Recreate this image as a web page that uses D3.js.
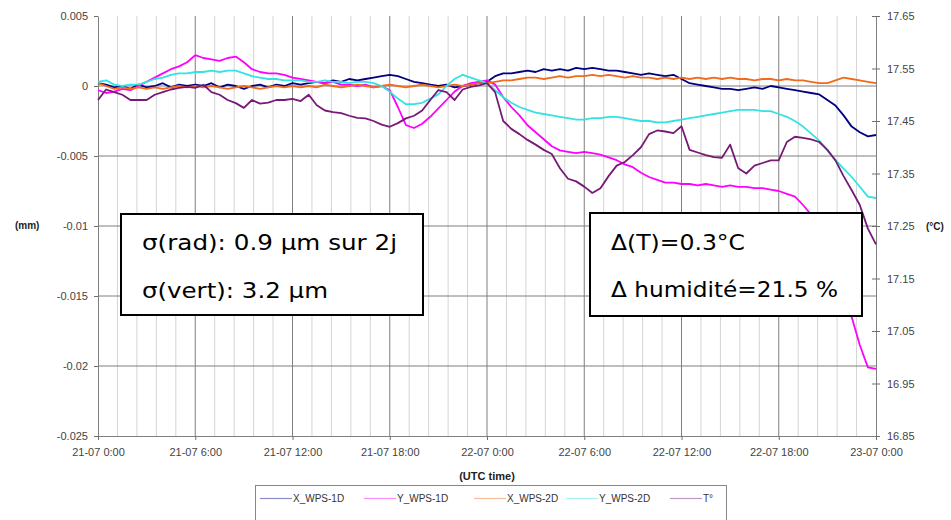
<!DOCTYPE html>
<html lang="fr">
<head>
  <meta charset="UTF-8">
  <script src="https://d3js.org/d3.v7.min.js"></script>
  <title>WPS 21-23/07</title>
  <style>
    body { margin: 0; background: #fff; }
    text { font-family: "Liberation Sans", Arial, sans-serif; }
    .tick text { font-size: 11px; fill: #444; }
    .unit { font-size: 10px; font-weight: bold; fill: #222; }
    .note { font-family: "DejaVu Sans", sans-serif; font-size: 22px; fill: #000; }
    .legend text { font-size: 10px; fill: #333; }
  </style>
</head>
<body>
<div id="chart"></div>
<script>
// sampling: one value every half hour, 21-07 0:00 -> 23-07 0:00
const stepHours = 0.5;

const xTickHours = [0, 6, 12, 18, 24, 30, 36, 42, 48];
const xTickLabels = ["21-07 0:00", "21-07 6:00", "21-07 12:00", "21-07 18:00", "22-07 0:00",
                     "22-07 6:00", "22-07 12:00", "22-07 18:00", "23-07 0:00"];
const leftTicks = [-0.025, -0.02, -0.015, -0.01, -0.005, 0, 0.005];
const leftTickLabels = ["-0.025", "-0.02", "-0.015", "-0.01", "-0.005", "0", "0.005"];
const rightTicks = [16.85, 16.95, 17.05, 17.15, 17.25, 17.35, 17.45, 17.55, 17.65];
const rightTickLabels = ["16.85", "16.95", "17.05", "17.15", "17.25", "17.35", "17.45", "17.55", "17.65"];

// displacements in micrometres (axis is in mm)
const xWps1D = [
  0.2, 0.1, -0.1, 0.0, -0.2, 0.1, -0.1, 0.0, 0.2, -0.1, 0.1, 0.0, 0.1,
  0.0, 0.2, -0.1, 0.1, 0.0, -0.2, 0.0, 0.1, -0.1, 0.1, 0.0, 0.2,
  0.1, 0.2, 0.3, 0.2, 0.4, 0.3, 0.5, 0.4, 0.5, 0.6, 0.7, 0.8,
  0.7, 0.5, 0.3, 0.2, 0.1, 0.0, 0.1, -0.1, 0.0, 0.1, 0.2, 0.3,
  0.7, 0.9, 0.9, 1.0, 1.1, 1.0, 1.2, 1.1, 1.2, 1.1, 1.3, 1.2,
  1.3, 1.2, 1.1, 1.1, 1.0, 0.9, 0.8, 0.9, 0.8, 0.7, 0.8, 0.5,
  0.2, 0.1, 0.0, -0.1, -0.2, -0.2, -0.3, -0.2, -0.1, -0.2, 0.0, -0.1,
  -0.2, -0.3, -0.4, -0.5, -0.6, -1.0, -1.4, -2.1, -2.9, -3.3, -3.6, -3.5
];
const yWps1D = [
  -0.3, -0.5, -0.4, -0.2, -0.3, 0.0, 0.3, 0.6, 0.9, 1.2, 1.4, 1.7, 2.2,
  2.0, 1.9, 1.8, 2.0, 2.1, 1.7, 1.2, 1.0, 0.9, 0.9, 0.8, 0.6,
  0.5, 0.4, 0.3, 0.2, 0.3, 0.1, 0.1, 0.0, 0.1, -0.1, 0.0, -0.3,
  -1.5, -2.8, -3.0, -2.7, -2.2, -1.6, -1.0, -0.4, 0.0, 0.2, 0.3, 0.4,
  0.1, -0.8, -1.5, -2.1, -2.8, -3.3, -3.8, -4.3, -4.6, -4.7, -4.8, -4.7,
  -4.8, -4.9, -5.1, -5.3, -5.6, -5.8, -6.2, -6.5, -6.7, -6.9, -6.9, -7.0,
  -7.0, -7.1, -7.0, -7.1, -7.2, -7.1, -7.2, -7.2, -7.3, -7.3, -7.4, -7.5,
  -7.7, -7.9, -8.5, -9.2, -10.2, -11.5, -13.0, -14.8, -16.5, -18.5, -20.1, -20.2
];
const xWps2D = [
  0.2, 0.0, -0.2, -0.1, -0.2, -0.1, -0.2, -0.1, -0.2, -0.1, 0.0, -0.1, 0.0,
  -0.1, 0.0, -0.1, -0.2, -0.1, 0.0, -0.1, -0.2, -0.1, 0.0, -0.1, 0.0,
  -0.1, 0.0, -0.1, 0.1, 0.0, -0.1, 0.0, 0.1, 0.0, -0.1, 0.0, 0.1,
  0.0, -0.1, 0.0, 0.1, 0.0, -0.1, 0.0, 0.1, 0.0, 0.1, 0.2, 0.2,
  0.3, 0.4, 0.4, 0.5, 0.6, 0.6, 0.5, 0.6, 0.7, 0.6, 0.7, 0.7,
  0.8, 0.7, 0.8, 0.7, 0.6, 0.7, 0.6, 0.6, 0.5, 0.6, 0.5, 0.6,
  0.5, 0.6, 0.5, 0.6, 0.5, 0.6, 0.5, 0.5, 0.4, 0.5, 0.5, 0.4,
  0.5, 0.4, 0.4, 0.3, 0.2, 0.2, 0.4, 0.6, 0.5, 0.4, 0.3, 0.2
];
const yWps2D = [
  0.3, 0.4, 0.1, 0.0, 0.1, 0.1, 0.3, 0.5, 0.6, 0.8, 0.9, 0.9, 1.0,
  1.0, 1.1, 1.0, 1.1, 1.1, 0.9, 0.7, 0.6, 0.5, 0.5, 0.4, 0.4,
  0.4, 0.3, 0.3, 0.4, 0.3, 0.3, 0.2, 0.3, 0.3, 0.2, 0.0, -0.4,
  -0.9, -1.3, -1.3, -1.2, -0.9, -0.6, 0.0, 0.5, 0.8, 0.6, 0.4, 0.2,
  -0.3, -0.8, -1.2, -1.5, -1.7, -1.9, -2.0, -2.1, -2.2, -2.3, -2.4, -2.4,
  -2.3, -2.3, -2.2, -2.2, -2.3, -2.4, -2.5, -2.5, -2.6, -2.6, -2.5, -2.4,
  -2.3, -2.2, -2.1, -2.0, -1.9, -1.8, -1.7, -1.7, -1.7, -1.8, -1.8, -2.0,
  -2.2, -2.5, -2.9, -3.4, -3.9, -4.6, -5.3, -5.9, -6.5, -7.2, -7.9, -8.0
];
// temperature, degrees C (right axis)
const tempC = [
  17.49, 17.51, 17.505, 17.50, 17.49, 17.49, 17.49, 17.50, 17.505, 17.51, 17.513, 17.515, 17.513,
  17.519, 17.505, 17.50, 17.49, 17.484, 17.475, 17.49, 17.483, 17.485, 17.49, 17.49, 17.492,
  17.488, 17.50, 17.48, 17.47, 17.467, 17.465, 17.46, 17.456, 17.455, 17.45, 17.443, 17.439,
  17.446, 17.455, 17.46, 17.47, 17.49, 17.509, 17.505, 17.49, 17.51, 17.515, 17.518, 17.522,
  17.505, 17.45, 17.435, 17.425, 17.414, 17.405, 17.395, 17.387, 17.36, 17.34, 17.335, 17.325,
  17.313, 17.322, 17.345, 17.365, 17.372, 17.385, 17.40, 17.425, 17.432, 17.43, 17.427, 17.44,
  17.395, 17.39, 17.385, 17.381, 17.38, 17.405, 17.36, 17.35, 17.365, 17.37, 17.375, 17.375,
  17.41, 17.42, 17.418, 17.415, 17.41, 17.395, 17.375, 17.345, 17.318, 17.29, 17.245, 17.215
];

const series = [
  { name: "X_WPS-1D", values: xWps1D, color: "#000080", axis: "left" },
  { name: "Y_WPS-1D", values: yWps1D, color: "#ff00ff", axis: "left" },
  { name: "X_WPS-2D", values: xWps2D, color: "#f26a1b", axis: "left" },
  { name: "Y_WPS-2D", values: yWps2D, color: "#33e3e3", axis: "left" },
  { name: "T°", values: tempC, color: "#761a76", axis: "right" }
];

const width = 951, height = 520;
const plot = { left: 98, right: 876, top: 16, bottom: 436 };

const svg = d3.select("#chart").append("svg")
  .attr("width", width)
  .attr("height", height);

const x = d3.scaleLinear().domain([0, 48]).range([plot.left, plot.right]);
const yL = d3.scaleLinear().domain([-0.025, 0.005]).range([plot.bottom, plot.top]);
const yR = d3.scaleLinear().domain([16.85, 17.65]).range([plot.bottom, plot.top]);

// minor vertical grid (Excel minor unit = 1.2 h)
const minorHours = d3.range(1.2, 48, 1.2).filter(h => Math.abs(h / 6 - Math.round(h / 6)) > 0.01);
svg.append("g").selectAll("line").data(minorHours).enter().append("line")
  .attr("x1", d => x(d)).attr("x2", d => x(d))
  .attr("y1", plot.top).attr("y2", plot.bottom)
  .attr("stroke", "#d4d4d4").attr("stroke-width", 1);

// major grid
svg.append("g").selectAll("line").data(xTickHours.slice(1, -1)).enter().append("line")
  .attr("x1", d => x(d)).attr("x2", d => x(d))
  .attr("y1", plot.top).attr("y2", plot.bottom)
  .attr("stroke", "#7f7f7f").attr("stroke-width", 1);
svg.append("g").selectAll("line").data(leftTicks.slice(1, -1)).enter().append("line")
  .attr("x1", plot.left).attr("x2", plot.right)
  .attr("y1", d => yL(d)).attr("y2", d => yL(d))
  .attr("stroke", "#7f7f7f").attr("stroke-width", 1);

// axes
const leftAxis = svg.append("g")
  .attr("transform", `translate(${plot.left},0)`)
  .call(d3.axisLeft(yL).tickValues(leftTicks)
    .tickFormat((d, i) => leftTickLabels[i]).tickSize(4).tickSizeOuter(0).tickPadding(6));
const rightAxis = svg.append("g")
  .attr("transform", `translate(${plot.right},0)`)
  .call(d3.axisRight(yR).tickValues(rightTicks)
    .tickFormat((d, i) => rightTickLabels[i]).tickSize(4).tickSizeOuter(0).tickPadding(7));
const bottomAxis = svg.append("g")
  .attr("transform", `translate(0,${plot.bottom})`)
  .call(d3.axisBottom(x).tickValues(xTickHours)
    .tickFormat((d, i) => xTickLabels[i]).tickSize(4).tickSizeOuter(0).tickPadding(8));

rightAxis.selectAll(".tick line").attr("x1", -4);
[leftAxis, rightAxis, bottomAxis].forEach(a => {
  a.select(".domain").attr("stroke", "#7f7f7f");
  a.selectAll(".tick line").attr("stroke", "#6f6f6f");
});

svg.append("text").attr("class", "unit").attr("x", 15).attr("y", 229).text("(mm)");
svg.append("text").attr("class", "unit").attr("x", 926).attr("y", 230).text("(°C)");
svg.append("text").attr("class", "unit").attr("x", 487).attr("y", 480)
  .attr("text-anchor", "middle").style("font-size", "11px").text("(UTC time)");

// lines
series.forEach(s => {
  const line = d3.line()
    .x((d, i) => x(i * stepHours))
    .y(d => s.axis === "left" ? yL(d / 1000) : yR(d));
  svg.append("path")
    .datum(s.values)
    .attr("fill", "none")
    .attr("stroke", s.color)
    .attr("stroke-width", 1.8)
    .attr("stroke-linejoin", "round")
    .attr("d", line);
});

// annotation boxes
function note(x0, y0, w, h, lines) {
  const g = svg.append("g");
  g.append("rect").attr("x", x0).attr("y", y0).attr("width", w).attr("height", h)
    .attr("fill", "#fff").attr("stroke", "#000").attr("stroke-width", 2);
  lines.forEach(l => {
    g.append("text").attr("class", "note")
      .attr("x", x0 + 21).attr("y", l.y)
      .attr("textLength", l.len).attr("lengthAdjust", "spacingAndGlyphs")
      .text(l.text);
  });
}
note(121, 214, 302, 101, [
  { text: "σ(rad): 0.9 μm sur 2j", y: 250, len: 255 },
  { text: "σ(vert): 3.2 μm", y: 298, len: 186 }
]);
note(590, 213, 272, 103, [
  { text: "Δ(T)=0.3°C", y: 250, len: 134 },
  { text: "Δ humidité=21.5 %", y: 297, len: 227 }
]);

// legend
const legend = svg.append("g").attr("class", "legend");
legend.append("rect").attr("x", 255.5).attr("y", 485.5).attr("width", 471).attr("height", 40)
  .attr("fill", "#fff").attr("stroke", "#888");
const legendX = [260, 364, 474, 566, 670];
series.forEach((s, i) => {
  legend.append("line")
    .attr("x1", legendX[i]).attr("x2", legendX[i] + 32)
    .attr("y1", 498.5).attr("y2", 498.5)
    .attr("stroke", s.color).attr("stroke-opacity", 0.45).attr("stroke-width", 1.2);
  legend.append("text").attr("x", legendX[i] + 33).attr("y", 502).text(s.name);
});
</script>
</body>
</html>
